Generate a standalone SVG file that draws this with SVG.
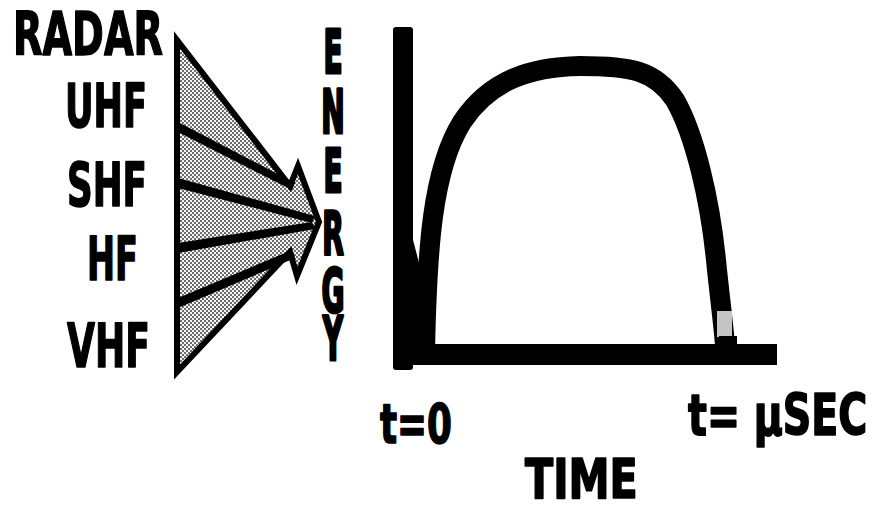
<svg xmlns="http://www.w3.org/2000/svg" width="872" height="512" viewBox="0 0 872 512">
<style>
.lbl{font-family:"DejaVu Sans Condensed","DejaVu Sans","Liberation Sans",sans-serif;font-weight:bold;font-size:60px;fill:#000;stroke:#000;stroke-width:1.5;stroke-linejoin:round}
.ray{fill:#000}
</style>
<defs>
<pattern id="dots" width="4" height="4" patternUnits="userSpaceOnUse">
<rect width="4" height="4" fill="#f4f4f4"/>
<circle cx="1" cy="1" r="0.95" fill="#333"/>
<circle cx="3" cy="3" r="0.95" fill="#333"/>
</pattern>
</defs>
<rect width="872" height="512" fill="#fff"/>

<g id="labels-left">
<g id="radar"><text class="lbl" x="13" y="55" textLength="150" lengthAdjust="spacingAndGlyphs">RADAR</text></g>
<g id="uhf"><text class="lbl" x="65" y="127" textLength="82" lengthAdjust="spacingAndGlyphs">UHF</text></g>
<g id="shf"><text class="lbl" x="67" y="206" textLength="80" lengthAdjust="spacingAndGlyphs">SHF</text></g>
<g id="hf"><text class="lbl" x="87" y="280" textLength="51" lengthAdjust="spacingAndGlyphs">HF</text></g>
<g id="vhf"><text class="lbl" x="67" y="367" textLength="83" lengthAdjust="spacingAndGlyphs">VHF</text></g>
</g>

<g id="fan">
<polygon points="177,40 290,186 298,166 319,222 297,276 290,252 177,372" fill="url(#dots)" stroke="#000" stroke-width="6" stroke-linejoin="miter"/>
</g>

<g id="connectors">
<polygon class="ray" points="178,122 178,132 292,190 295,183"/>
<polygon class="ray" points="178,178 178,188 312,223 315,216"/>
<polygon class="ray" points="178,243 178,253 315,229 312,222"/>
<polygon class="ray" points="178,298 178,308 295,258 292,250"/>
</g>

<g id="energy">
<text class="lbl" text-anchor="middle" style="stroke-width:3px" transform="translate(333 0) scale(0.52 1)"><tspan x="0" y="73">E</tspan><tspan x="0" y="133">N</tspan><tspan x="0" y="192">E</tspan><tspan x="0" y="255">R</tspan><tspan x="0" y="312">G</tspan><tspan x="0" y="360">Y</tspan></text>
</g>

<g id="graph">
<rect x="393" y="27" width="20" height="343" rx="3" fill="#000"/>
<rect x="395" y="344" width="382" height="21" fill="#000"/>
<polygon points="411,232 426,290 426,350 411,350" fill="#000"/>
<path d="M425,352 C427,250 432,170 462,122 C490,80 530,67 580,66 C630,66 655,70 675,100 C695,135 710,200 716,260 C720,300 723,320 725,345" fill="none" stroke="#000" stroke-width="20"/>
<rect x="717" y="311" width="15" height="26" fill="#e6e6e6" opacity="0.85"/>
<rect x="719" y="336" width="18" height="9" fill="#000"/>
</g>

<g id="t0"><text class="lbl" transform="translate(380 443) scale(0.8 1)" x="0" y="0" style="font-size:55px" textLength="90" lengthAdjust="spacingAndGlyphs">t=0</text></g>
<g id="tusec"><text class="lbl" transform="translate(688 435) scale(0.8 1.1)" x="0" y="0" style="font-size:52px" textLength="224" lengthAdjust="spacingAndGlyphs">t= µSEC</text></g>
<g id="time"><text class="lbl" transform="translate(525 498) scale(0.8 1.1)" x="0" y="0" style="font-size:50px" textLength="141" lengthAdjust="spacingAndGlyphs">TIME</text></g>
</svg>
